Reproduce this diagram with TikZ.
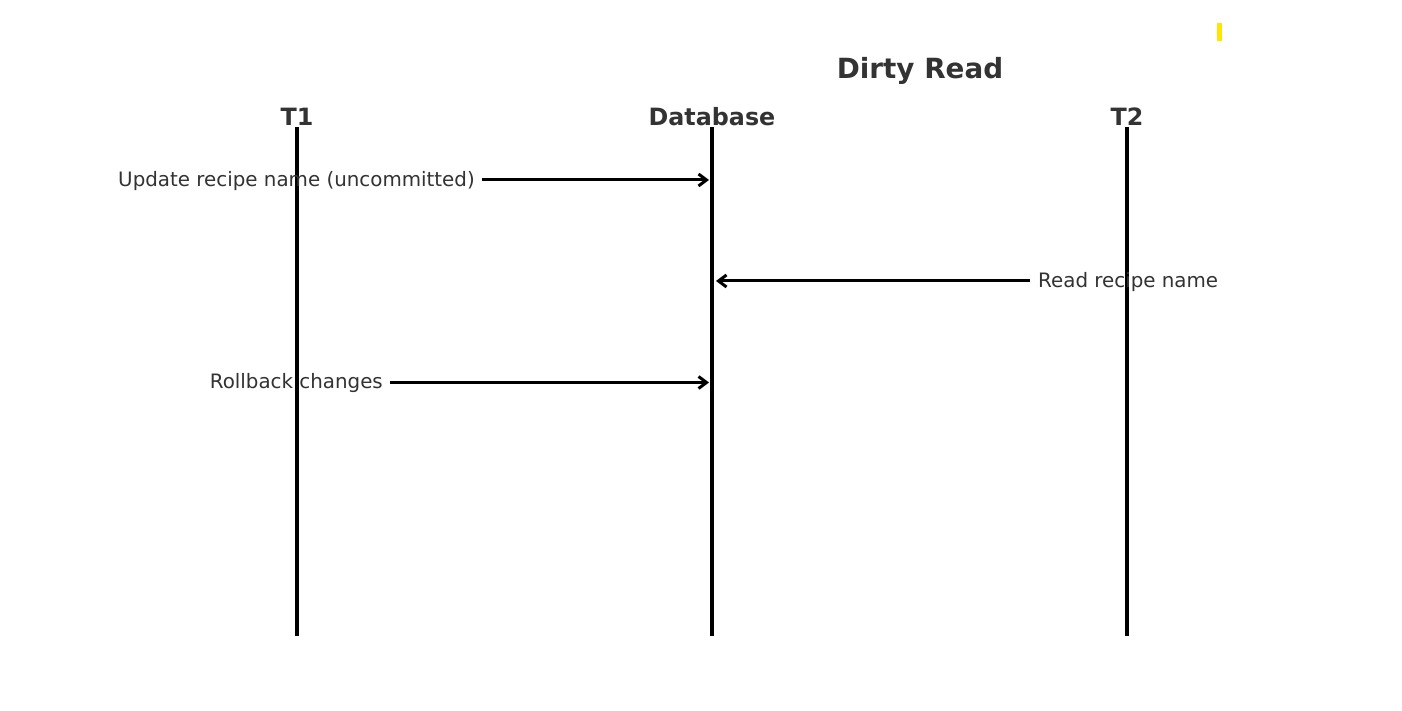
\documentclass[tikz,border=0pt]{standalone}
\usepackage{fontspec}
\setmainfont{DejaVu Sans}
\usetikzlibrary{arrows.meta}
\definecolor{txt}{HTML}{333333}
\definecolor{markyellow}{HTML}{FFE600}
\begin{document}
\begin{tikzpicture}[x=1pt,y=1pt,
  lifeline/.style={line width=4pt,black},
  msg/.style={line width=3pt,black,-{Straight Barb[length=8pt,width=12pt,line width=3pt]}},
  lbl/.style={inner sep=0pt,text=txt,font=\fontsize{19.85}{24}\selectfont},
  head/.style={inner sep=0pt,text=txt,font=\fontsize{23.8}{28}\selectfont\bfseries},
  ttl/.style={inner sep=0pt,text=txt,font=\fontsize{27.8}{33}\selectfont\bfseries}]
\useasboundingbox[fill=white] (0,0) rectangle (1402,711);
\fill[markyellow] (1217,670) rectangle (1222,688);
\node[ttl] (title) at (920,640) {Dirty Read};
\node[head] (h1) at (297,594) {T1};
\node[head] (hdb) at (712,594) {Database};
\node[head] (h2) at (1127,594) {T2};
\coordinate (t1top) at (297,584);
\coordinate (t1bot) at (297,75);
\coordinate (dbtop) at (712,584);
\coordinate (dbbot) at (712,75);
\coordinate (t2top) at (1127,584);
\coordinate (t2bot) at (1127,75);
\draw[lifeline] (t1top) -- (t1bot);
\draw[lifeline] (dbtop) -- (dbbot);
\draw[lifeline] (t2top) -- (t2bot);
\coordinate (db1) at (712,531);
\coordinate (db2) at (712,430);
\coordinate (db3) at (712,328.5);
\node[lbl,anchor=east] (l1) at (475,530) {Update recipe name (uncommitted)};
\node[lbl,anchor=west] (l2) at (1038,429) {Read recipe name};
\node[lbl,anchor=east] (l3) at (383,327.5) {Rollback changes};
\draw[msg,shorten <=7pt,shorten >=3pt] (l1.east |- db1) -- (db1);
\draw[msg,shorten <=8pt,shorten >=4pt] (l2.west |- db2) -- (db2);
\draw[msg,shorten <=7pt,shorten >=3pt] (l3.east |- db3) -- (db3);
\end{tikzpicture}
\end{document}
